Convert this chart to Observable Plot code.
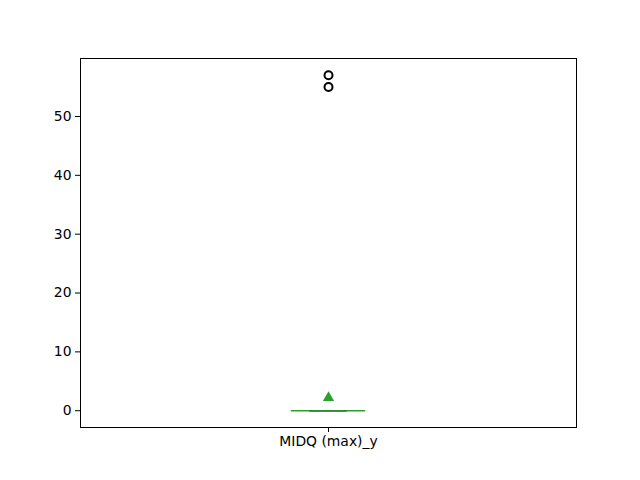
<!DOCTYPE html>
<html>
<head>
<meta charset="utf-8">
<script src="https://cdn.jsdelivr.net/npm/d3@7"></script>
<script src="https://cdn.jsdelivr.net/npm/@observablehq/plot@0.6"></script>
<style>
  body { margin: 0; background: #fff; }
  svg { font-family: "DejaVu Sans", sans-serif; }
</style>
</head>
<body>
<div id="chart"></div>
<script>
const categories = ["MIDQ (max)_y"];
const q1 = [0];
const median = [0];
const q3 = [0];
const whiskerLow = [0];
const whiskerHigh = [0];
const means = [2.2];
const outliers = [55, 57];
const yTicks = [0, 10, 20, 30, 40, 50];

const pos = 1;
const boxHalf = 0.075;
const capHalf = 0.0375;

const boxes = categories.map((c, i) => ({c, x1: pos - boxHalf, x2: pos + boxHalf, q1: q1[i], q3: q3[i], med: median[i], lo: whiskerLow[i], hi: whiskerHigh[i], mean: means[i]}));
const fl = outliers.map(v => ({x: pos, y: v}));

const chart = Plot.plot({
  width: 640,
  height: 480,
  marginLeft: 80,
  marginRight: 64,
  marginTop: 58,
  marginBottom: 53,
  style: {fontSize: "13.9px", fontFamily: "DejaVu Sans, sans-serif", color: "black", background: "white"},
  x: {domain: [0.5, 1.5], ticks: [pos], tickFormat: () => categories[0], label: null, tickSize: 5, tickPadding: 4},
  y: {domain: [-2.85, 59.85], ticks: yTicks, label: null, tickSize: 5, tickPadding: 4},
  marks: [
    Plot.frame({stroke: "black", strokeWidth: 1}),
    Plot.ruleX(boxes, {x: pos, y1: "lo", y2: "q1", stroke: "#1f77b4", strokeWidth: 1.5}),
    Plot.ruleX(boxes, {x: pos, y1: "q3", y2: "hi", stroke: "#1f77b4", strokeWidth: 1.5}),
    Plot.ruleY(boxes, {y: "lo", x1: pos - capHalf, x2: pos + capHalf, stroke: "#1f77b4", strokeWidth: 1.5}),
    Plot.ruleY(boxes, {y: "hi", x1: pos - capHalf, x2: pos + capHalf, stroke: "#1f77b4", strokeWidth: 1.5}),
    Plot.rect(boxes, {x1: "x1", x2: "x2", y1: "q1", y2: "q3", stroke: "#1f77b4", strokeWidth: 1.5, fill: "none"}),
    Plot.ruleY(boxes, {y: "med", x1: "x1", x2: "x2", stroke: "#2ca02c", strokeWidth: 1.5}),
    Plot.ruleY(boxes, {y: "lo", x1: pos - capHalf, x2: pos + capHalf, stroke: "#2a7f3a", strokeWidth: 1.5, strokeOpacity: 0.6}),
    Plot.dot(fl, {x: "x", y: "y", r: 4, stroke: "black", strokeWidth: 2, fill: "none"}),
    Plot.dot(boxes, {x: pos, y: "mean", symbol: "triangle", r: 4.2, fill: "#2ca02c", stroke: "none"})
  ]
});
document.getElementById("chart").appendChild(chart);
</script>
</body>
</html>
